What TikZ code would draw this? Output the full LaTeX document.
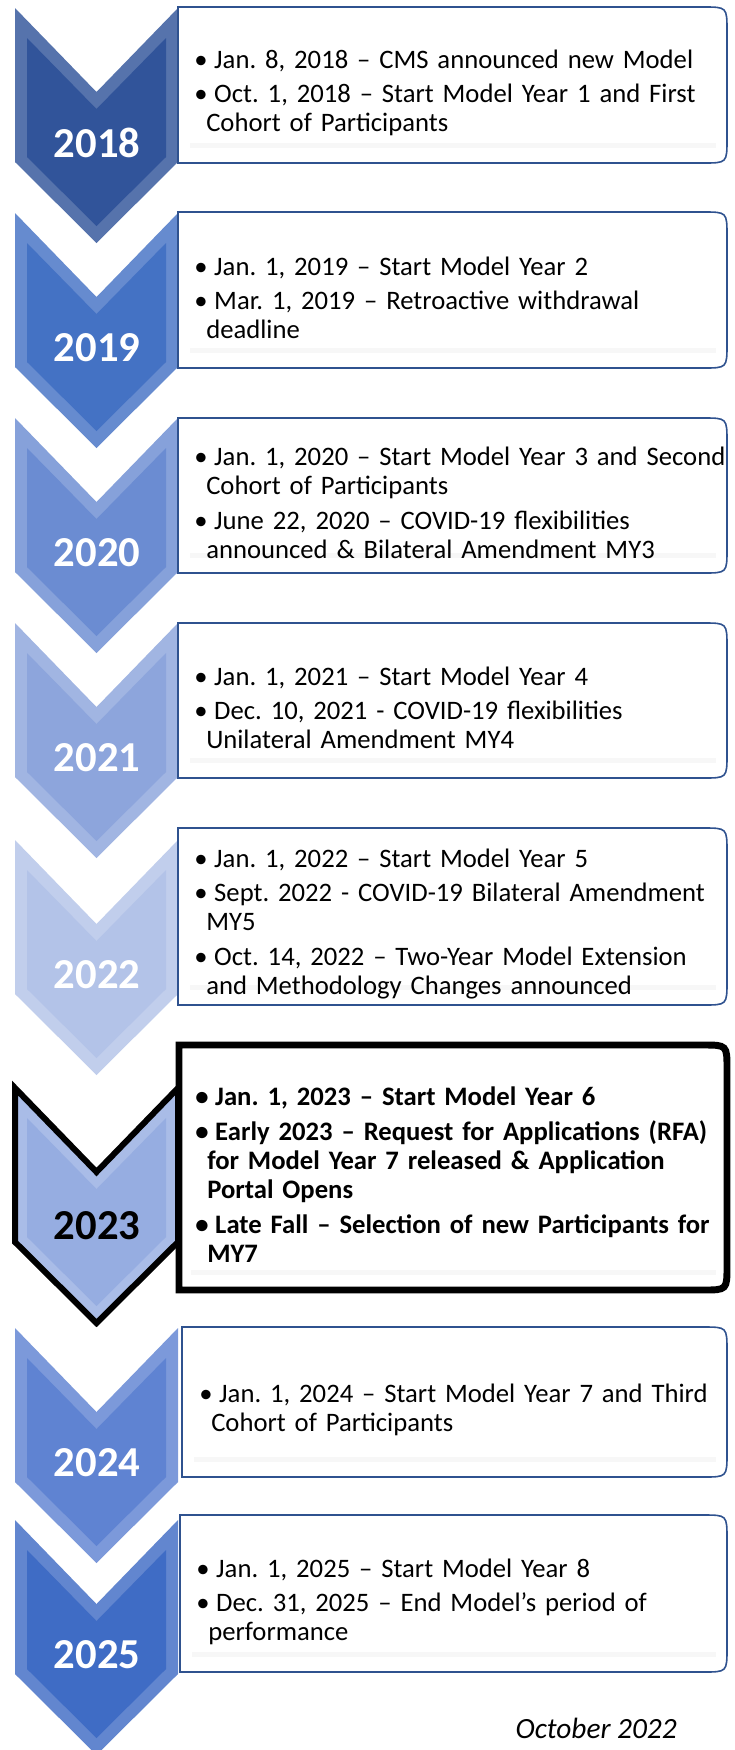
\documentclass[tikz,border=0pt]{standalone}
\usepackage{fontspec}
\setmainfont{Carlito}
\frenchspacing

\definecolor{boxblue}{HTML}{2F528F}
\definecolor{yrA}{HTML}{31549A}
\definecolor{yrB}{HTML}{4472C4}
\definecolor{yrC}{HTML}{6B8CD2}
\definecolor{yrD}{HTML}{8DA5DC}
\definecolor{yrE}{HTML}{B3C3E8}
\definecolor{yrF}{HTML}{96ADE1}
\definecolor{yrG}{HTML}{5F83D2}
\definecolor{yrH}{HTML}{3F6CC5}

% one bullet item, and a hanging continuation line
\newcommand{\itm}{\par\noindent\makebox[15pt][l]{\textbullet}}
\newcommand{\cnt}{\newline\hspace*{9pt}}

% chevron: top edge, colour
\newcommand{\chevshape}[2]{%
  \fill[#2!82!white] (15,#1) -- (96.5,#1+84) -- (178,#1) -- (178,#1+154) -- (96.5,#1+235) -- (15,#1+154) -- cycle;
  \fill[#2] (27,#1+30) -- (96.5,#1+101) -- (166,#1+30) -- (166,#1+149) -- (96.5,#1+218) -- (27,#1+149) -- cycle;
}

% text panel: style, left, top, bottom
\newcommand{\boxshape}[4][yearbox]{%
  \draw[#1] (#2,#3) -- (703,#3) .. controls (727,#3) .. (727,#3+24) -- (727,#4-24) .. controls (727,#4) .. (703,#4) -- (#2,#4) -- cycle;
  \fill[black!3] (#2+12,#4-20) rectangle (716,#4-15);
}

\begin{document}
\begin{tikzpicture}[x=0.75pt,y=-0.75pt,
  yearbox/.style={draw=boxblue,line width=1.2pt,fill=white},
  hibox/.style={draw=black,line width=5.2pt,fill=white},
  evt/.style={anchor=west,inner sep=0pt,text width=400pt,align=left,font=\fontsize{20}{22}\selectfont\setlength{\parskip}{3.75pt}},
  yr/.style={inner sep=0pt,text=white,font=\fontsize{32}{32}\selectfont\bfseries}]
\useasboundingbox (0,0) rectangle (735,1750);
\clip (0,0) rectangle (735,1750);

% chevrons
\chevshape{8}{yrA}
\chevshape{213}{yrB}
\chevshape{418}{yrC}
\chevshape{623}{yrD}
\chevshape{840}{yrE}
\chevshape{1088}{yrF}
\draw[line width=4.5pt] (15,1088) -- (96.5,1172) -- (178,1088) -- (178,1242) -- (96.5,1323) -- (15,1242) -- cycle;
\chevshape{1328}{yrG}
\chevshape{1520}{yrH}

% panels
\boxshape{178}{7}{163}
\boxshape{178}{212}{368}
\boxshape{178}{418}{573}
\boxshape{178}{623}{778}
\boxshape{178}{828}{1005}
\boxshape[hibox]{179}{1045}{1290}
\boxshape{182}{1327}{1477}
\boxshape{180}{1515}{1672}

% years
\node[yr] (y18) at (97,143) {2018};
\node[yr] (y19) at (97,348) {2019};
\node[yr] (y20) at (97,553) {2020};
\node[yr] (y21) at (97,758) {2021};
\node[yr] (y22) at (97,975) {2022};
\node[yr,text=black] (y23) at (97,1226) {2023};
\node[yr] (y24) at (97,1463) {2024};
\node[yr] (y25) at (97,1655) {2025};

% events
\node[evt] (e18) at (194,85) {\itm Jan. 8, 2018 – CMS announced new Model
  \itm Oct. 1, 2018 – Start Model Year 1 and First\cnt Cohort of Participants};
\node[evt] (e19) at (194,290) {\itm Jan. 1, 2019 – Start Model Year 2
  \itm Mar. 1, 2019 – Retroactive withdrawal\cnt deadline};
\node[evt] (e20) at (194,495) {\itm Jan. 1, 2020 – Start Model Year 3 and Second\cnt Cohort of Participants
  \itm June 22, 2020 – COVID-19 flexibilities\cnt announced \& Bilateral Amendment MY3};
\node[evt] (e21) at (194,700) {\itm Jan. 1, 2021 – Start Model Year 4
  \itm Dec. 10, 2021 - COVID-19 flexibilities\cnt Unilateral Amendment MY4};
\node[evt] (e22) at (194,916) {\itm Jan. 1, 2022 – Start Model Year 5
  \itm Sept. 2022 - COVID-19 Bilateral Amendment\cnt MY5
  \itm Oct. 14, 2022 – Two-Year Model Extension\cnt and Methodology Changes announced};
\node[evt,font=\fontsize{20}{22}\selectfont\bfseries\setlength{\parskip}{3.75pt}] (e23) at (195,1167) {\itm Jan. 1, 2023 – Start Model Year 6
  \itm Early 2023 – Request for Applications (RFA)\cnt for Model Year 7 released \& Application\cnt Portal Opens
  \itm Late Fall – Selection of new Participants for\cnt MY7};
\node[evt] (e24) at (199,1402) {\itm Jan. 1, 2024 – Start Model Year 7 and Third\cnt Cohort of Participants};
\node[evt] (e25) at (196,1594) {\itm Jan. 1, 2025 – Start Model Year 8
  \itm Dec. 31, 2025 – End Model’s period of\cnt performance};

\node[anchor=base east,inner sep=0pt,font=\fontsize{22}{22}\selectfont\itshape] (stamp) at (677,1738) {October 2022};
\end{tikzpicture}
\end{document}
